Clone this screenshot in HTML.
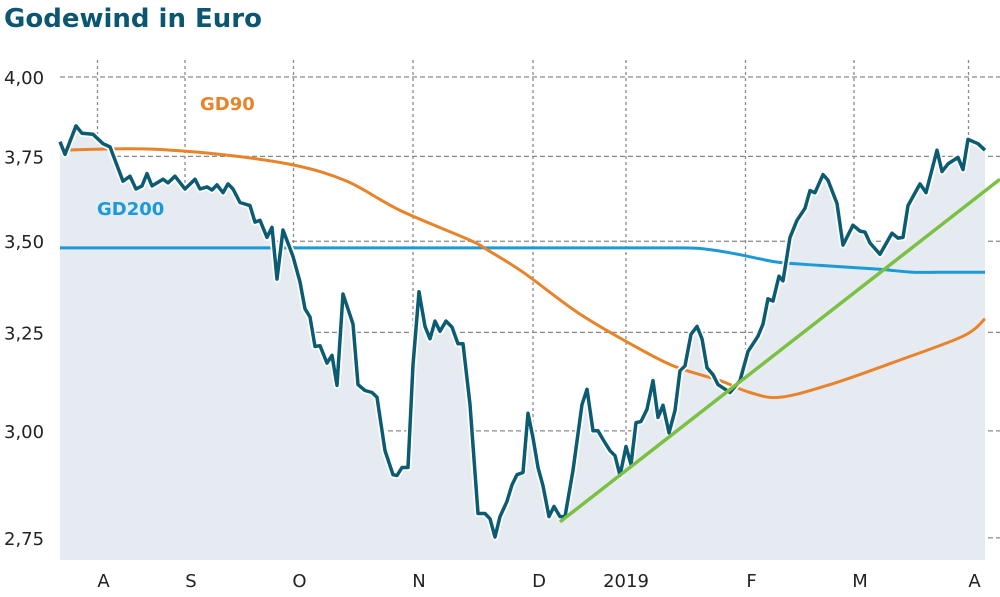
<!DOCTYPE html>
<html><head><meta charset="utf-8">
<style>
html,body{margin:0;padding:0;background:#fff;}
body{width:1000px;height:593px;overflow:hidden;font-family:"DejaVu Sans","Liberation Sans",sans-serif;}
</style></head>
<body>
<svg id="chart" width="1000" height="593" viewBox="0 0 1000 593" xmlns="http://www.w3.org/2000/svg">
<text x="4" y="27" font-family="DejaVu Sans, sans-serif" font-weight="bold" font-size="26" fill="#0b5670">Godewind in Euro</text>
<g id="grid"></g>
<g id="marks"></g>
<g id="axes"></g>
<text x="200" y="110" font-weight="bold" font-size="18" fill="#e8832a" font-family="DejaVu Sans, sans-serif">GD90</text>
<text x="97" y="215" font-weight="bold" font-size="18" fill="#1b9ad6" font-family="DejaVu Sans, sans-serif">GD200</text>
</svg>
<script>
// ---- data ----
const priceDays = [0,1,3.2,4.4,6.6,8.6,10,12.6,14,15.2,16.4,17.4,18.4,20.6,21.6,23,25,27,28,29.4,30.4,31.4,32.6,33.6,34.6,36,38,39,40,41.4,42.4,43.4,44.6,46.6,48,49,50,51,52,53.4,54.4,55.4,56.6,58.6,59.6,61,62.4,63.4,65,66.6,67.4,68.4,69.6,70.6,71.8,73,74,75,76,77.2,78.4,79.6,80.6,82,83.6,85,86,87,88,89.4,90.4,91.4,92.6,93.6,94.6,95.6,96.6,97.8,98.8,100,101,102.6,104.4,105.4,106.6,107.6,108.6,110,111,112,113.2,114.2,115.2,116.2,117.4,118.6,119.6,120.6,121.8,123,124,125,126.2,127.4,128.4,129.4,130.6,131.6,134,136,137.6,139.6,140.6,141.6,142.6,143.8,144.6,146,147.4,149,150,151,152.6,153.6,155.4,156.6,158.6,160,161,162,164,166.4,167.6,168.6,169.6,172,173.2,175.4,176.4,177.6,179.6,180.6,181.6,183.6,185];
const priceValues = [3.795,3.756,3.844,3.821,3.818,3.789,3.779,3.675,3.690,3.652,3.661,3.698,3.661,3.681,3.670,3.690,3.652,3.681,3.652,3.658,3.649,3.664,3.641,3.667,3.652,3.612,3.603,3.555,3.560,3.511,3.540,3.394,3.532,3.457,3.386,3.313,3.291,3.213,3.215,3.170,3.190,3.113,3.353,3.272,3.115,3.100,3.095,3.083,2.952,2.895,2.893,2.912,2.912,3.165,3.359,3.266,3.233,3.280,3.253,3.280,3.264,3.220,3.220,3.065,2.805,2.805,2.793,2.752,2.798,2.833,2.871,2.895,2.900,3.043,2.983,2.912,2.869,2.798,2.821,2.798,2.798,2.905,3.065,3.103,3.000,3.000,2.979,2.952,2.940,2.893,2.962,2.919,3.020,3.023,3.053,3.125,3.033,3.063,2.995,3.050,3.150,3.163,3.245,3.266,3.233,3.158,3.140,3.115,3.095,3.125,3.200,3.240,3.272,3.340,3.334,3.402,3.389,3.511,3.560,3.595,3.647,3.641,3.695,3.678,3.609,3.489,3.546,3.529,3.526,3.495,3.463,3.523,3.509,3.511,3.603,3.667,3.641,3.769,3.704,3.727,3.747,3.710,3.802,3.789,3.769];
const gd90Days = [0,16.6,32,46.6,57.4,68,82,85.4,92.6,103.4,113.4,122.6,132,138,144,154,167.4,180.6,185];
const gd90Values = [3.769,3.773,3.756,3.724,3.675,3.589,3.503,3.476,3.413,3.304,3.225,3.163,3.125,3.095,3.083,3.115,3.175,3.240,3.286];
const gd200Days = [0,40,80,110,122,127.4,132,136,140,144,152,164,170.6,178,185];
const gd200Values = [3.481,3.481,3.481,3.481,3.481,3.480,3.472,3.462,3.450,3.440,3.432,3.421,3.413,3.413,3.413];
const trendDays = [100,188];
const trendValues = [2.786,3.681];
const yTicks = [4.00,3.75,3.50,3.25,3.00,2.75];
const yTickLabels = ["4,00","3,75","3,50","3,25","3,00","2,75"];
const monthDays = [7.5,25,46.7,70.6,94.6,113.2,137.1,158.8,181.7];
const monthLabels = ["A","S","O","N","D","2019","F","M","A"];

// ---- scales ----
const X0=60, DAYPX=5, PLOT_B=560;
function xs(d){return X0+d*DAYPX;}
function ys(v){return 77+1230*Math.log(4/v);}

const NS="http://www.w3.org/2000/svg";
function mk(tag,attrs,parent){const e=document.createElementNS(NS,tag);for(const k in attrs)e.setAttribute(k,attrs[k]);parent.appendChild(e);return e;}
const grid=document.getElementById('grid'), marks=document.getElementById('marks'), axes=document.getElementById('axes');

function pts(days,vals){return days.map((d,i)=>xs(d).toFixed(1)+','+ys(vals[i]).toFixed(1)).join(' ');}
function smooth(days,vals){
  const P=days.map((d,i)=>[xs(d),ys(vals[i])]);
  let s='M'+P[0][0].toFixed(1)+','+P[0][1].toFixed(1);
  for(let i=0;i<P.length-1;i++){
    const p0=P[Math.max(0,i-1)],p1=P[i],p2=P[i+1],p3=P[Math.min(P.length-1,i+2)];
    const c1=[p1[0]+(p2[0]-p0[0])/6,p1[1]+(p2[1]-p0[1])/6];
    const c2=[p2[0]-(p3[0]-p1[0])/6,p2[1]-(p3[1]-p1[1])/6];
    s+=' C'+c1[0].toFixed(1)+','+c1[1].toFixed(1)+' '+c2[0].toFixed(1)+','+c2[1].toFixed(1)+' '+p2[0].toFixed(1)+','+p2[1].toFixed(1);
  }
  return s;
}

// fill
const fill=mk('polygon',{points:xs(priceDays[0])+','+PLOT_B+' '+pts(priceDays,priceValues)+' '+xs(priceDays[priceDays.length-1])+','+PLOT_B,fill:'#e6ebf2'},marks);



// gridlines
yTicks.forEach((v,i)=>{
  const y=ys(v);
  const l=mk('line',{x1:60,x2:1000,y1:y,y2:y,stroke:'#8a8a8a','stroke-width':1.3,'stroke-dasharray':'5,3'},grid);
  
  
  const t=mk('text',{x:4,y:y+7,'font-size':18,fill:'#222','font-family':'DejaVu Sans, sans-serif'},axes);
  t.textContent=yTickLabels[i];
  
  
});
monthDays.forEach((d,i)=>{
  const x=xs(d);
  const l=mk('line',{x1:x,x2:x,y1:60,y2:PLOT_B,stroke:'#8a8a8a','stroke-width':1.3,'stroke-dasharray':'3,3'},grid);
  
  
  const t=mk('text',{x:x+(i===5?0:6),y:587,'font-size':18,fill:'#222','text-anchor':'middle','font-family':'DejaVu Sans, sans-serif'},axes);
  t.textContent=monthLabels[i];
  
  
});

// lines
const g200=mk('path',{d:smooth(gd200Days,gd200Values),fill:'none',stroke:'#1b9ad6','stroke-width':3},marks);


const g90=mk('path',{d:smooth(gd90Days,gd90Values),fill:'none',stroke:'#e8832a','stroke-width':3},marks);


const halo=mk('polyline',{points:pts(priceDays,priceValues),fill:'none',stroke:'#fff','stroke-width':7,'stroke-linejoin':'round'},marks);


const pl=mk('polyline',{points:pts(priceDays,priceValues),fill:'none',stroke:'#0b5b73','stroke-width':3.5,'stroke-linejoin':'round'},marks);


const tr=mk('polyline',{points:pts(trendDays,trendValues),fill:'none',stroke:'#7ac143','stroke-width':3.5},marks);


</script>
</body></html>
